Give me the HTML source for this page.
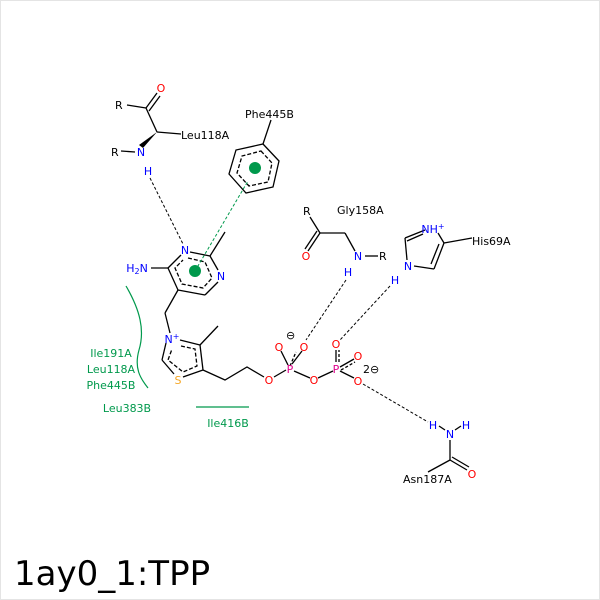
<!DOCTYPE html>
<html><head><meta charset="utf-8"><style>
html,body{margin:0;padding:0;background:#fff}
svg{display:block}
text{font-family:"DejaVu Sans","Liberation Sans",sans-serif;font-size:11px}
</style></head><body>
<svg width="600" height="600" viewBox="0 0 600 600" xmlns="http://www.w3.org/2000/svg">
<rect x="0.5" y="0.5" width="599" height="599" fill="#fff" stroke="#e4e4e4"/>
<g stroke="#000" stroke-width="1.3" fill="none">
<line x1="127" y1="105" x2="146" y2="108"/>
<line x1="146" y1="108" x2="157" y2="93"/><line x1="149" y1="111" x2="160" y2="96"/>
<line x1="146" y1="108" x2="157" y2="132"/>
<line x1="157" y1="132" x2="181" y2="134"/>
<line x1="121" y1="151" x2="135" y2="152"/>
<polygon points="263,144 279,161 273,187 246,193 229,174 236,150"/>
<polygon points="261,151 272,163 268,182 249,186 237,173 242,156" stroke-dasharray="4,2"/>
<line x1="263" y1="144" x2="271" y2="120"/>
<line x1="190" y1="252" x2="210" y2="256"/>
<line x1="210" y1="256" x2="218" y2="270"/>
<line x1="218" y1="282" x2="205" y2="295"/>
<line x1="205" y1="295" x2="178" y2="290"/>
<line x1="178" y1="290" x2="168" y2="268"/>
<line x1="168" y1="268" x2="181" y2="255"/>
<polyline points="188,258 205,262 212,278 203,288 182,284 175,268 183,260" stroke-dasharray="4,2"/>
<line x1="210" y1="256" x2="225" y2="232"/>
<line x1="151" y1="268" x2="168" y2="268"/>
<line x1="178" y1="290" x2="165" y2="313"/>
<line x1="165" y1="313" x2="170" y2="333"/>
<line x1="166" y1="343" x2="162" y2="360"/>
<line x1="162" y1="360" x2="174" y2="374"/>
<line x1="183" y1="377" x2="203" y2="370"/>
<line x1="203" y1="370" x2="200" y2="345"/>
<line x1="200" y1="345" x2="180" y2="340"/>
<polyline points="181,346 195,349 197,366 183,372 168,360 172,349" stroke-dasharray="4,2"/>
<line x1="200" y1="345" x2="218" y2="326"/>
<polyline points="203,370 225,380 247,367 264,377"/>
<line x1="274" y1="377" x2="286" y2="370"/>
<line x1="294" y1="371" x2="310" y2="378"/>
<line x1="318" y1="378" x2="333" y2="371"/>
<line x1="288" y1="365" x2="281" y2="351"/><line x1="292" y1="364" x2="302" y2="351"/>
<line x1="290" y1="366" x2="296" y2="352" stroke-dasharray="3,2"/>
<line x1="336" y1="362" x2="336" y2="350"/><line x1="339" y1="362" x2="339" y2="350" stroke-dasharray="3,2"/>
<line x1="340" y1="367" x2="354" y2="359"/><line x1="341" y1="370" x2="355" y2="362" stroke-dasharray="3,2"/>
<line x1="340" y1="371" x2="354" y2="378"/>
<line x1="310" y1="217" x2="320" y2="233"/>
<line x1="320" y1="233" x2="308" y2="251"/><line x1="317" y1="231" x2="305" y2="249"/>
<line x1="320" y1="233" x2="345" y2="233"/>
<line x1="345" y1="233" x2="355" y2="251"/>
<line x1="365" y1="256" x2="378" y2="256"/>
<line x1="425" y1="230" x2="405" y2="238"/><line x1="423" y1="234" x2="407" y2="241"/>
<line x1="405" y1="238" x2="407" y2="260"/>
<line x1="414" y1="266" x2="434" y2="269"/>
<line x1="434" y1="269" x2="444" y2="243"/><line x1="431" y1="264" x2="439" y2="244"/>
<line x1="444" y1="243" x2="438" y2="233"/>
<line x1="444" y1="243" x2="472" y2="238"/>
<line x1="450" y1="440" x2="450" y2="460"/>
<line x1="450" y1="460" x2="428" y2="472"/>
<line x1="450" y1="460" x2="467" y2="470"/><line x1="452" y1="457" x2="469" y2="467"/>
<line x1="439" y1="426" x2="445" y2="430"/><line x1="455" y1="430" x2="461" y2="426"/>
</g>
<polygon points="157,132 143,148 139,145" fill="#000"/>
<g stroke="#000" stroke-width="1" stroke-dasharray="3,2" fill="none">
<line x1="150" y1="178" x2="183" y2="244"/>
<line x1="346" y1="280" x2="306" y2="340"/>
<line x1="390" y1="286" x2="340" y2="340"/>
<line x1="363" y1="384" x2="428" y2="422"/>
</g>
<line x1="195" y1="271" x2="248" y2="181" stroke="#00994c" stroke-width="1" stroke-dasharray="3,2"/>
<circle cx="195" cy="271" r="6" fill="#00994c"/>
<circle cx="255" cy="168" r="6" fill="#00994c"/>
<path d="M126,286 C140,310 145,330 139,350 C134,368 140,378 148,388" stroke="#00994c" stroke-width="1.2" fill="none"/>
<line x1="196" y1="407" x2="249" y2="407" stroke="#00994c" stroke-width="1.2"/>
<g fill="#00994c" text-anchor="middle">
<text x="111" y="357">Ile191A</text><text x="111" y="373">Leu118A</text><text x="111" y="389">Phe445B</text>
<text x="127" y="412">Leu383B</text><text x="228" y="427">Ile416B</text>
</g>
<g fill="#000">
<text x="115" y="109">R</text><text x="181" y="139">Leu118A</text><text x="111" y="156">R</text>
<text x="245" y="118">Phe445B</text>
<text x="303" y="215">R</text><text x="337" y="214">Gly158A</text><text x="379" y="260">R</text>
<text x="472" y="245">His69A</text><text x="403" y="483">Asn187A</text>
<text x="286" y="339">⊖</text><text x="363" y="373" font-size="9">2</text><text x="370" y="373">⊖</text>
</g>
<g fill="#f00" text-anchor="middle">
<text x="161" y="92">O</text><text x="306" y="260">O</text><text x="472" y="478">O</text>
<text x="269" y="384">O</text><text x="279" y="351">O</text><text x="304" y="351">O</text><text x="314" y="384">O</text>
<text x="336" y="348">O</text><text x="358" y="360">O</text><text x="358" y="385">O</text>
</g>
<g fill="#e0008c" text-anchor="middle"><text x="290" y="373">P</text><text x="336" y="373">P</text></g>
<text x="178" y="384" fill="#f5a623" text-anchor="middle">S</text>
<g fill="#00f" text-anchor="middle">
<text x="141" y="156">N</text><text x="148" y="175">H</text>
<text x="185" y="254">N</text><text x="221" y="280">N</text>
<text x="137" y="272">H<tspan font-size="8" dy="2">2</tspan><tspan dy="-2">N</tspan></text>
<text x="172" y="343">N<tspan font-size="8" dy="-4">+</tspan></text>
<text x="358" y="260">N</text><text x="348" y="276">H</text>
<text x="433" y="233">NH<tspan font-size="8" dy="-4">+</tspan></text>
<text x="408" y="270">N</text><text x="395" y="284">H</text>
<text x="433" y="429">H</text><text x="450" y="438">N</text><text x="466" y="429">H</text>
</g>
<text x="14" y="585" style="font-size:34px" fill="#000">1ay0_1:TPP</text>
</svg>
</body></html>
